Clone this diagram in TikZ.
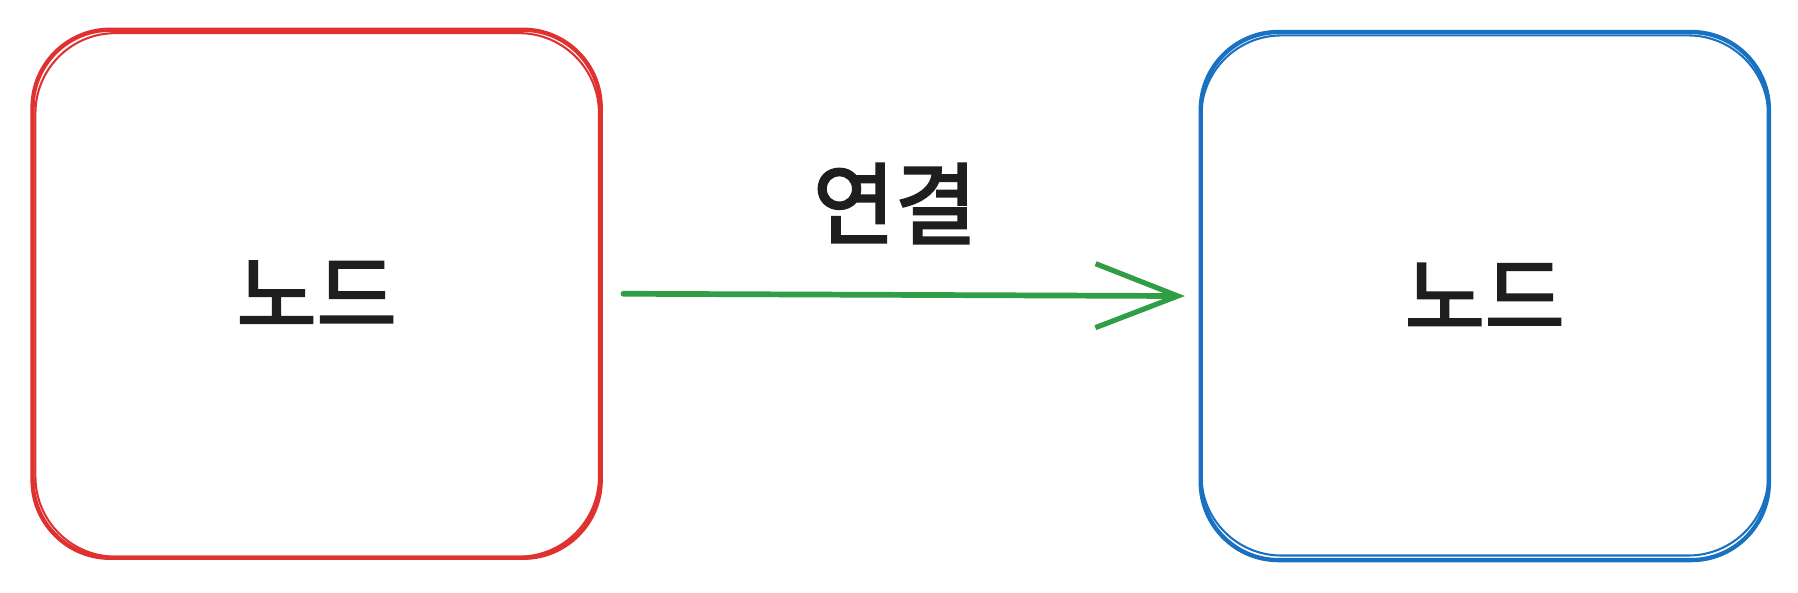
\documentclass[tikz,border=0pt]{standalone}
\usepackage{fontspec}
\newfontfamily\kr{Noto Sans CJK KR}[FakeBold=2.5]
\usetikzlibrary{arrows.meta}
\definecolor{exred}{HTML}{E03131}
\definecolor{exblue}{HTML}{1971C2}
\definecolor{exgreen}{HTML}{2F9E44}
\definecolor{exink}{HTML}{1E1E1E}
\tikzset{
  box/.style={draw, line width=3.8pt, rounded corners=68pt, minimum width=497pt, minimum height=462pt, inner sep=0pt, font=\kr\fontsize{76}{80}\selectfont, text=exink},
  sketch/.style={line width=1.8pt, rounded corners=70pt},
  link/.style={draw=exgreen, line width=5pt, line cap=round, -{Straight Barb[length=72pt,width=56pt,line width=4.5pt]}},
  lab/.style={font=\kr\fontsize{78}{82}\selectfont, text=exink}
}
\begin{document}
\begin{tikzpicture}[x=1pt,y=-1pt]
\useasboundingbox (0,0) rectangle (1573,518);
\fill[white] (0,0) rectangle (1573,518);
\node[box, draw=exred] (a) at (277,257) {노드};
\draw[exred, sketch] (31,29) rectangle (524,487);
\node[box, draw=exblue] (b) at (1299,259) {노드};
\draw[exblue, sketch] (1051,31) rectangle (1547,486);
\draw[link] ([xshift=18pt]a.east) -- ([xshift=-12pt]b.west);
\node[lab] (l) at (783,178) {연결};
\end{tikzpicture}
\end{document}
